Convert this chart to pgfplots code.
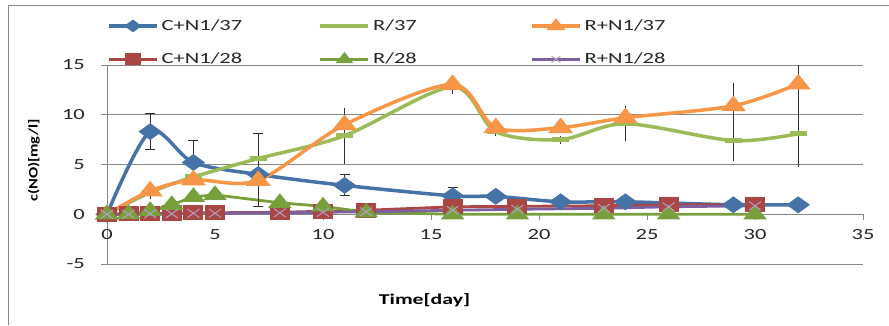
\documentclass[border=0pt]{standalone}
\usepackage{fontspec}
\setmainfont{Carlito}[FakeStretch=1.45]
\newfontfamily\ylabfont{Carlito}[FakeStretch=1.27]
\usepackage{pgfplots}
\pgfplotsset{compat=1.18}
\definecolor{cblue}{HTML}{4572A7}
\definecolor{cgreenL}{HTML}{9BBB59}
\definecolor{corange}{HTML}{F79646}
\definecolor{cred}{HTML}{AA4643}
\definecolor{cgreenD}{HTML}{77A03C}
\definecolor{cpurple}{HTML}{7D5FA0}
\definecolor{axgray}{HTML}{868686}
\definecolor{errc}{HTML}{303030}
\begin{document}
\begin{tikzpicture}
\path[use as bounding box] (0,0) rectangle (889pt,325pt);
\draw[axgray, line width=1pt] (8pt,0pt) -- (8pt,320pt) -- (889pt,320pt);
\begin{axis}[
  at={(107pt,61pt)}, anchor=south west,
  scale only axis, width=756pt, height=199pt,
  xmin=0, xmax=35, ymin=-5, ymax=15,
  clip=false,
  axis x line*=middle, axis y line*=left,
  hide obscured x ticks=false,
  xtick={0,5,...,35}, ytick={-5,0,5,10,15},
  xticklabels={}, yticklabels={},
  tick align=outside, major tick length=6pt,
  tick style={axgray, line width=0.8pt},
  axis line style={axgray, line width=0.8pt},
  ymajorgrids, grid style={axgray, line width=0.8pt},
  every axis x label/.style={at={(axis description cs:0.42,-0.181)}, anchor=center, font=\bfseries\fontsize{15}{17}\selectfont},
  every axis y label/.style={at={(axis description cs:-0.0966,0.52)}, rotate=90, anchor=center, font=\ylabfont\bfseries\fontsize{13}{15}\selectfont},
  xlabel={Time[day]}, ylabel={c(NO)[mg/l]},
  legend columns=3,
  legend style={at={(axis description cs:0,1.228)}, anchor=north west, draw=none, fill=none,
    inner sep=0pt, column sep=0pt, row sep=21pt, nodes={inner sep=0pt},
    font=\fontsize{15.5}{18}\selectfont, text=black!85},
  legend image code/.code={\draw[mark repeat=2,mark phase=2,#1] plot coordinates {(0pt,0pt) (24pt,0pt) (48pt,0pt)};},
]
% C+N1/37
\addplot[cblue, line width=3.5pt, smooth, mark=diamond*, mark size=6.3pt, mark options={solid, xscale=1.85, fill=cblue},
  legend image post style={mark size=4.2pt}]
 coordinates {(0,0) (2,8.3) (4,5.2) (7,4.0) (11,2.9) (16,1.85) (18,1.8) (21,1.25) (24,1.25) (29,0.95) (32,0.95)};
\addlegendentry{\hspace{3pt}\makebox[157pt][l]{C+N1/37}}
% R/37
\addplot[cgreenL, line width=3.5pt, smooth, mark=-, mark size=6pt, mark options={solid, xscale=1.45, line width=5pt},
  legend image code/.code={\draw[cgreenL, line width=3.5pt] (0pt,0pt) -- (48pt,0pt);}]
 coordinates {(0,0) (2,2.2) (4,3.75) (7,5.6) (11,7.9) (16,12.8) (18,8.3) (21,7.5) (24,9.1) (29,7.4) (32,8.1)};
\addlegendentry{\hspace{3pt}\makebox[157pt][l]{R/37}}
% R+N1/37
\addplot[corange, line width=3.5pt, smooth, mark=triangle*, mark size=7.3pt, mark options={solid, xscale=1.4, fill=corange},
  legend image post style={mark size=5pt}]
 coordinates {(0,0) (2,2.35) (4,3.45) (7,3.4) (11,9.0) (16,13.05) (18,8.7) (21,8.7) (24,9.7) (29,10.9) (32,13.1)};
\addlegendentry{\hspace{3pt}\makebox[157pt][l]{R+N1/37}}
% C+N1/28
\addplot[cred, line width=2.8pt, mark=square*, mark size=6.2pt, mark options={solid, xscale=1.38, fill=cred},
  legend image post style={mark size=4.6pt}]
 coordinates {(0,0) (1,0.05) (2,0.1) (3,0.12) (4,0.15) (5,0.15) (8,0.2) (10,0.3) (12,0.4) (16,0.75) (19,0.8) (23,0.85) (26,0.95) (30,0.95)};
\addlegendentry{\hspace{3pt}\makebox[157pt][l]{C+N1/28}}
% R/28
\addplot[cgreenD, line width=2.8pt, mark=triangle*, mark size=7.3pt, mark options={solid, xscale=1.4, fill=cgreenD},
  legend image post style={mark size=5pt}]
 coordinates {(0,0) (1,0.05) (2,0.35) (3,0.95) (4,1.75) (5,1.95) (8,1.15) (10,0.8) (12,0.2) (16,0) (19,0) (23,0) (26,0) (30,0)};
\addlegendentry{\hspace{3pt}\makebox[157pt][l]{R/28}}
% R+N1/28
\addplot[cpurple, line width=2.8pt, mark=x, mark size=6pt, mark options={solid, xscale=1.4, line width=1pt, cpurple!60},
  legend image post style={mark size=4.5pt}]
 coordinates {(0,0) (1,0.0) (2,0.05) (3,0.05) (4,0.1) (5,0.1) (8,0.15) (10,0.2) (12,0.25) (16,0.4) (19,0.5) (23,0.6) (26,0.75) (30,0.85)};
\addlegendentry{\hspace{3pt}\makebox[157pt][l]{R+N1/28}}
% error bars with caps (C+N1/37)
\addplot[forget plot, draw=none, mark=none,
  error bars/.cd, y dir=both, y explicit,
  error bar style={draw=errc, line width=1pt, solid},
  error mark options={draw=errc, line width=1pt, mark size=5pt, rotate=90}]
 coordinates {(2,8.3) +- (0,1.8) (4,5.2) +- (0,2.2) (7,4.0) += (0,4.1) -= (0,3.2) (11,2.9) +- (0,1.05) (16,1.85) +- (0,0.8) (32,0.95) +- (0,0.3)};
% error bars without caps
\addplot[forget plot, draw=none, mark=none,
  error bars/.cd, y dir=both, y explicit, error mark=none,
  error bar style={draw=errc, line width=1pt, solid}]
 coordinates {(2,2.3) +- (0,0.8) (7,3.4) +- (0,1.0) (11,7.9) +- (0,2.8) (16,13.0) +- (0,0.9) (18,8.3) +- (0,0.45) (21,7.5) +- (0,0.4) (24,9.1) +- (0,1.75) (29,9.3) +- (0,3.9) (32,13.1) += (0,1.9) -= (0,8.4)};
% tick labels
\pgfplotsinvokeforeach{-5,0,5,10,15}{\node[anchor=east, inner sep=0pt, xshift=-22pt, font=\fontsize{15.5}{18}\selectfont, text=black!85] at (axis cs:0,#1) {#1};}
\pgfplotsinvokeforeach{0,5,10,15,20,25,30,35}{\node[anchor=north, inner sep=0pt, yshift=-15pt, font=\fontsize{15.5}{18}\selectfont, text=black!85] at (axis cs:#1,0) {#1};}
\end{axis}
\end{tikzpicture}
\end{document}
